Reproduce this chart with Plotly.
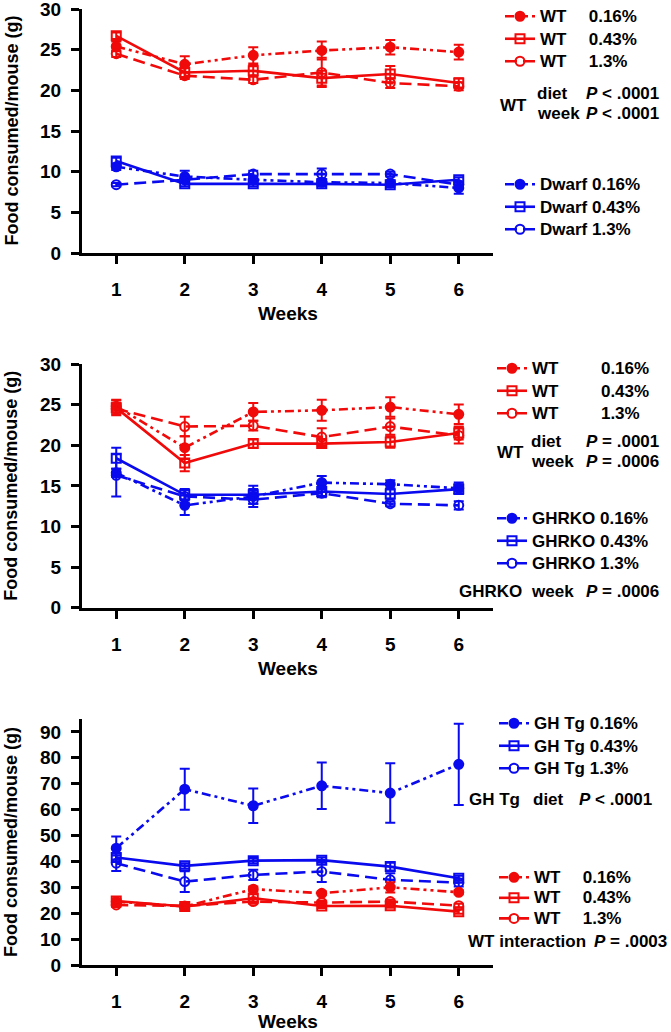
import plotly.graph_objects as go

W, H = 671, 1032
weeks = [1, 2, 3, 4, 5, 6]

# Panel 1: WT vs Dwarf
p1_wt016 = [25.4, 23.2, 24.3, 24.9, 25.3, 24.7]
p1_wt016_err = [0.6, 1.0, 1.0, 1.1, 0.9, 0.9]
p1_wt043 = [26.7, 22.2, 22.4, 21.5, 22.0, 20.9]
p1_wt043_err = [0.4, 0.6, 0.7, 0.9, 1.0, 0.6]
p1_wt13 = [24.5, 21.8, 21.3, 22.2, 20.9, 20.5]
p1_wt13_err = [0.4, 0.4, 0.4, 1.8, 0.6, 0.5]
p1_dw016 = [10.6, 9.4, 9.0, 8.7, 8.6, 8.0]
p1_dw016_err = [0.4, 0.7, 0.5, 0.4, 0.3, 0.7]
p1_dw043 = [11.3, 8.5, 8.5, 8.5, 8.4, 9.0]
p1_dw043_err = [0.4, 0.3, 0.3, 0.3, 0.3, 0.3]
p1_dw13 = [8.4, 9.0, 9.7, 9.7, 9.7, 8.4]
p1_dw13_err = [0.2, 0.3, 0.4, 0.7, 0.3, 0.4]

# Panel 2: WT vs GHRKO
p2_wt016 = [24.8, 19.7, 24.1, 24.3, 24.7, 23.8]
p2_wt016_err = [0.8, 1.4, 1.1, 1.3, 1.2, 1.2]
p2_wt043 = [24.6, 17.8, 20.2, 20.2, 20.4, 21.5]
p2_wt043_err = [0.9, 1.0, 0.5, 0.5, 0.7, 0.8]
p2_wt13 = [24.5, 22.3, 22.4, 21.0, 22.3, 21.2]
p2_wt13_err = [0.7, 1.2, 0.6, 1.1, 1.0, 1.0]
p2_ko016 = [16.6, 12.6, 13.7, 15.4, 15.2, 14.7]
p2_ko016_err = [0.5, 1.2, 0.9, 0.8, 0.5, 0.7]
p2_ko043 = [18.4, 13.9, 13.9, 14.3, 14.0, 14.6]
p2_ko043_err = [1.3, 0.7, 1.1, 0.6, 0.6, 0.6]
p2_ko13 = [16.3, 13.7, 13.3, 14.1, 12.8, 12.6]
p2_ko13_err = [2.6, 0.8, 0.9, 0.5, 0.3, 0.5]

# Panel 3: GH Tg vs WT
p3_tg016 = [45.1, 67.9, 61.5, 69.2, 66.4, 77.5]
p3_tg016_err = [4.5, 7.9, 6.7, 9.0, 11.5, 15.7]
p3_tg043 = [41.5, 38.3, 40.3, 40.5, 38.0, 33.5]
p3_tg043_err = [1.5, 1.0, 1.0, 1.0, 1.5, 1.0]
p3_tg13 = [39.3, 32.2, 34.8, 36.1, 32.9, 31.8]
p3_tg13_err = [3.0, 4.0, 2.0, 4.0, 2.5, 1.5]
p3_wt016 = [24.5, 22.6, 29.3, 27.7, 30.0, 28.1]
p3_wt016_err = [0.8, 0.8, 1.0, 0.8, 2.0, 0.8]
p3_wt043 = [24.7, 22.6, 25.8, 22.8, 22.9, 20.6]
p3_wt043_err = [0.8, 0.8, 1.5, 0.8, 0.8, 0.8]
p3_wt13 = [23.2, 22.8, 24.5, 24.1, 24.5, 22.9]
p3_wt13_err = [0.8, 0.8, 0.8, 0.8, 0.8, 0.8]

y_ticks_p1 = [0, 5, 10, 15, 20, 25, 30]
y_ticks_p3 = [0, 10, 20, 30, 40, 50, 60, 70, 80, 90]

RED = "#F00A0A"
BLUE = "#0A0AEE"
FONT = "Arial, Liberation Sans, sans-serif"
NB = "\u00a0"
GAP_S = NB * 4 + "\u2009"
GAP_L = NB * 9

DASH016 = "9px,4px,3px,4px,3px,4px"
DASH13 = "12px,6px"

STYLE = {
    "016": dict(symbol="circle", dash=DASH016, size=9),
    "043": dict(symbol="square-open", dash="solid", size=9),
    "13": dict(symbol="circle-open", dash=DASH13, size=9),
}

fig = go.Figure()


def lab(t):
    return '<span style="font-size:17px">' + t + "</span>"


def add(y, err, color, kind, name, xa, ya, legend):
    st = STYLE[kind]
    fig.add_trace(go.Scatter(
        x=weeks, y=y, mode="lines+markers", name=lab(name),
        xaxis=xa, yaxis=ya, legend=legend,
        line=dict(color=color, width=2.6, dash=st["dash"]),
        marker=dict(symbol=st["symbol"], size=st["size"], color=color,
                    line=dict(color=color, width=2)),
        error_y=dict(type="data", array=err, color=color, thickness=2, width=5),
    ))


# Panel 1
add(p1_wt016, p1_wt016_err, RED, "016", "WT" + GAP_S + "0.16%", "x", "y", "legend")
add(p1_wt043, p1_wt043_err, RED, "043", "WT" + GAP_S + "0.43%", "x", "y", "legend")
add(p1_wt13, p1_wt13_err, RED, "13", "WT" + GAP_S + "1.3%", "x", "y", "legend")
add(p1_dw016, p1_dw016_err, BLUE, "016", "Dwarf 0.16%", "x", "y", "legend2")
add(p1_dw043, p1_dw043_err, BLUE, "043", "Dwarf 0.43%", "x", "y", "legend2")
add(p1_dw13, p1_dw13_err, BLUE, "13", "Dwarf 1.3%", "x", "y", "legend2")

# Panel 2
add(p2_wt016, p2_wt016_err, RED, "016", "WT" + GAP_L + "0.16%", "x2", "y2", "legend3")
add(p2_wt043, p2_wt043_err, RED, "043", "WT" + GAP_L + "0.43%", "x2", "y2", "legend3")
add(p2_wt13, p2_wt13_err, RED, "13", "WT" + GAP_L + "1.3%", "x2", "y2", "legend3")
add(p2_ko016, p2_ko016_err, BLUE, "016", "GHRKO 0.16%", "x2", "y2", "legend4")
add(p2_ko043, p2_ko043_err, BLUE, "043", "GHRKO 0.43%", "x2", "y2", "legend4")
add(p2_ko13, p2_ko13_err, BLUE, "13", "GHRKO 1.3%", "x2", "y2", "legend4")

# Panel 3
add(p3_tg016, p3_tg016_err, BLUE, "016", "GH Tg 0.16%", "x3", "y3", "legend5")
add(p3_tg043, p3_tg043_err, BLUE, "043", "GH Tg 0.43%", "x3", "y3", "legend5")
add(p3_tg13, p3_tg13_err, BLUE, "13", "GH Tg 1.3%", "x3", "y3", "legend5")
add(p3_wt016, p3_wt016_err, RED, "016", "WT" + GAP_S + "0.16%", "x3", "y3", "legend6")
add(p3_wt043, p3_wt043_err, RED, "043", "WT" + GAP_S + "0.43%", "x3", "y3", "legend6")
add(p3_wt13, p3_wt13_err, RED, "13", "WT" + GAP_S + "1.3%", "x3", "y3", "legend6")


def px(x):
    return x / W


def py(y):
    return 1 - y / H


XDOM = [px(82), px(493)]
panels = [
    (9, 253, [0, 30], y_ticks_p1),
    (364, 607.7, [0, 30], y_ticks_p1),
    (719, 965, [0, 95], y_ticks_p3),
]

tickfont = dict(family=FONT, size=19, color="black", weight="bold")
axis_common = dict(showline=True, linewidth=3, linecolor="black", ticks="outside",
                   ticklen=8, tickwidth=3, tickcolor="black", showgrid=False,
                   zeroline=False, tickfont=tickfont, automargin=False,
                   ticklabeloverflow="allow")

layout = dict(width=W, height=H,
              margin=dict(l=0, r=0, t=0, b=0, autoexpand=False),
              plot_bgcolor="white", paper_bgcolor="white", showlegend=True)

for i, (ytop, ybot, rng, ticks) in enumerate(panels):
    sfx = "" if i == 0 else str(i + 1)
    layout["xaxis" + sfx] = dict(domain=XDOM, range=[0.5, 6.5], tickvals=weeks,
                                 anchor="y" + sfx, ticklabelstandoff=9, **axis_common)
    layout["yaxis" + sfx] = dict(domain=[py(ybot), py(ytop)], range=rng,
                                 tickvals=ticks, anchor="x" + sfx, ticklabelstandoff=6,
                                 **axis_common)


def leg(x, y, size=15):
    return dict(x=px(x), y=py(y), xanchor="left", yanchor="top",
                font=dict(family=FONT, size=size, color="black", weight="bold"),
                bgcolor="rgba(0,0,0,0)", itemwidth=30, tracegroupgap=0,
                traceorder="normal")


layout["legend"] = leg(500, 0)
layout["legend2"] = leg(500, 168)
layout["legend3"] = leg(492, 352)
layout["legend4"] = leg(492, 502)
layout["legend5"] = leg(494, 707)
layout["legend6"] = leg(494, 862, size=13.5)

fig.update_layout(**layout)

afont = dict(family=FONT, size=17, color="black", weight="bold")


def ann(text, x, y, xanchor="left", size=17, angle=0):
    f = dict(afont)
    f["size"] = size
    fig.add_annotation(text=text, x=px(x), y=py(y), xref="paper", yref="paper",
                       xanchor=xanchor, yanchor="middle", showarrow=False,
                       font=f, textangle=angle, borderpad=0)


# axis titles
for ytop, ybot in [(8, 253), (364, 607.7), (719, 965)]:
    ann("Food consumed/mouse (g)", 11, (ytop + ybot) / 2, xanchor="center", size=18, angle=-90)
ann("Weeks", 288, 313, xanchor="center", size=19)
ann("Weeks", 288, 668, xanchor="center", size=19)
ann("Weeks", 288, 1021, xanchor="center", size=19)

# stats panel 1
ann("WT", 499, 106)
ann("diet", 536, 94)
ann("<i>P</i> < .0001", 585, 94)
ann("week", 536, 114)
ann("<i>P</i> < .0001", 585, 114)

# stats panel 2
ann("WT", 496, 452)
ann("diet", 530, 441)
ann("<i>P</i> = .0001", 585, 441)
ann("week", 530, 461)
ann("<i>P</i> = .0006", 585, 461)
ann("GHRKO", 458, 591)
ann("week", 530, 591)
ann("<i>P</i> = .0006", 585, 591)

# stats panel 3
ann("GH Tg", 468, 799)
ann("diet", 532, 799)
ann("<i>P</i> < .0001", 578, 799)
ann("WT interaction", 467, 941)
ann("<i>P</i> = .0003", 593, 941)

# remove the browser's default page margin so the figure sits at the window origin
fig.write_html("out.html", config={"displayModeBar": False},
               post_script="document.body.style.margin='0px';")
